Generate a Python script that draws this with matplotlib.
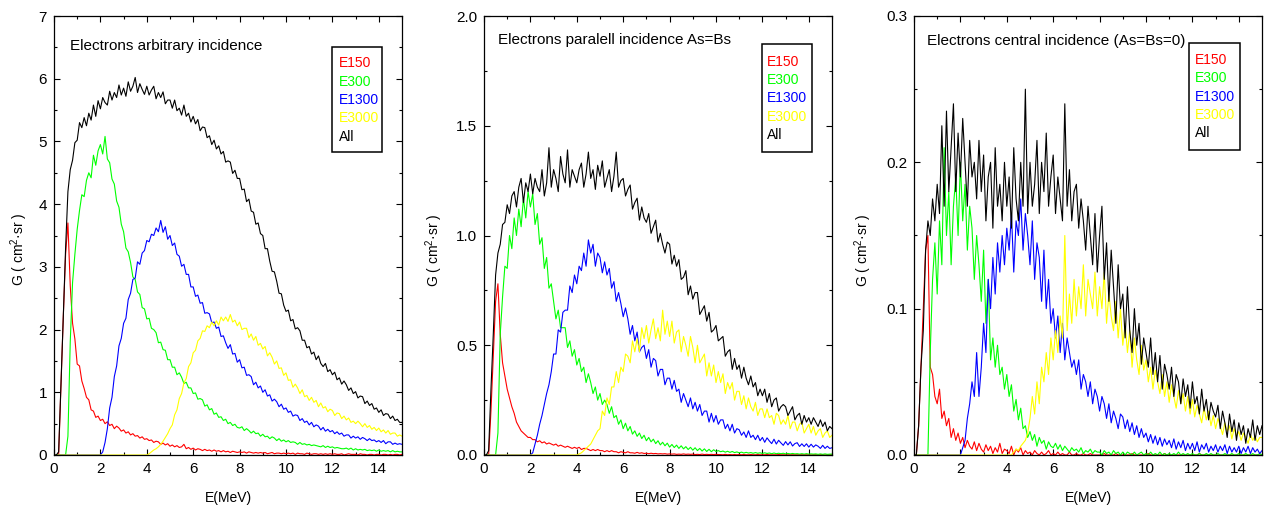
import numpy as np
import matplotlib
matplotlib.use("Agg")
import matplotlib.pyplot as plt
from matplotlib.ticker import MultipleLocator, FormatStrFormatter
from matplotlib.patches import Rectangle

plt.rcParams['font.family'] = ['Liberation Sans', 'DejaVu Sans']
plt.rcParams['mathtext.fontset'] = 'custom'
plt.rcParams['mathtext.rm'] = 'Liberation Sans'
plt.rcParams['mathtext.it'] = 'Liberation Sans:italic'

# ---------------- data ----------------
E_STEP = 0.1  # MeV, energy bin width; every series starts at E = 0
SERIES_NAMES = ['E150', 'E300', 'E1300', 'E3000', 'All']
SERIES_COLORS = ['#ff0000', '#00ff00', '#0000ff', '#ffff00', '#000000']
PANEL_TITLES = ['Electrons arbitrary incidence',
                'Electrons paralell incidence As=Bs',
                'Electrons central incidence (As=Bs=0)']
Y_MAX = [7, 2.0, 0.3]
Y_MAJOR = [1, 0.5, 0.1]
Y_FMT = ['%d', '%.1f', '%.1f']
X_MAX = 15
X_LABEL = 'E(MeV)'
Y_LABEL = 'G ( cm$^{2}$·sr )'

# Panel 1: arbitrary incidence
A_E150 = [
    0.0, 0.0, 0.0, 1.1, 2.2, 3.2, 3.7, 2.7, 2.1, 1.85,
    1.45, 1.42, 1.18, 1.06, 0.92, 0.88, 0.72, 0.7, 0.6, 0.62,
    0.55, 0.57, 0.5, 0.53, 0.47, 0.49, 0.42, 0.46, 0.43, 0.38,
    0.4, 0.35, 0.37, 0.32, 0.34, 0.3, 0.31, 0.27, 0.29, 0.25,
    0.26, 0.23, 0.24, 0.2, 0.22, 0.21, 0.17, 0.19, 0.16, 0.18,
    0.14, 0.16, 0.13, 0.15, 0.12, 0.13, 0.17, 0.1, 0.12, 0.09,
    0.11, 0.08, 0.1, 0.09, 0.07, 0.09, 0.07, 0.08, 0.06, 0.08,
    0.06, 0.07, 0.05, 0.07, 0.05, 0.06, 0.04, 0.06, 0.05, 0.04,
    0.05, 0.04, 0.05, 0.03, 0.05, 0.04, 0.03, 0.04, 0.03, 0.04,
    0.03, 0.04, 0.02, 0.03, 0.04, 0.02, 0.03, 0.03, 0.02, 0.03,
    0.02, 0.03, 0.02, 0.03, 0.01, 0.03, 0.02, 0.02, 0.01, 0.03,
    0.02, 0.01, 0.02, 0.02, 0.01, 0.02, 0.01, 0.02, 0.01, 0.02,
    0.01, 0.02, 0.01, 0.01, 0.02, 0.0, 0.01, 0.02, 0.01, 0.01,
    0.01, 0.0, 0.02, 0.01, 0.01, 0.0, 0.01, 0.01, 0.0, 0.01,
    0.01, 0.0, 0.01, 0.01, 0.0, 0.01, 0.0, 0.01, 0.01, 0.0,
    0.01]
A_E300 = [
    0.0, 0.0, 0.0, 0.0, 0.0, 0.0, 0.3, 1.8, 2.75, 3.2,
    3.6, 3.9, 4.15, 4.12, 4.38, 4.5, 4.42, 4.78, 4.62, 4.85,
    4.95, 4.8, 5.08, 4.72, 4.66, 4.4, 4.32, 4.05, 3.95, 3.68,
    3.56, 3.30, 3.24, 3.07, 2.84, 2.80, 2.60, 2.56, 2.35, 2.33,
    2.17, 2.18, 2.02, 2.00, 1.95, 1.79, 1.80, 1.68, 1.67, 1.52,
    1.52, 1.40, 1.40, 1.28, 1.31, 1.24, 1.14, 1.16, 1.07, 1.07,
    0.98, 0.99, 0.89, 0.90, 0.88, 0.78, 0.80, 0.72, 0.74, 0.65,
    0.67, 0.60, 0.61, 0.55, 0.57, 0.50, 0.52, 0.47, 0.49, 0.44,
    0.43, 0.45, 0.39, 0.42, 0.39, 0.35, 0.38, 0.34, 0.35, 0.30,
    0.33, 0.29, 0.30, 0.26, 0.29, 0.27, 0.23, 0.26, 0.22, 0.24,
    0.21, 0.23, 0.20, 0.21, 0.20, 0.17, 0.20, 0.17, 0.18, 0.16,
    0.17, 0.15, 0.16, 0.15, 0.14, 0.13, 0.15, 0.12, 0.14, 0.12,
    0.13, 0.11, 0.12, 0.11, 0.1, 0.1, 0.11, 0.09, 0.11, 0.08,
    0.1, 0.08, 0.09, 0.08, 0.09, 0.07, 0.08, 0.07, 0.08, 0.06,
    0.08, 0.06, 0.07, 0.06, 0.07, 0.05, 0.07, 0.05, 0.06, 0.05,
    0.05]
A_E1300 = [
    0.0, 0.0, 0.0, 0.0, 0.0, 0.0, 0.0, 0.0, 0.0, 0.0,
    0.0, 0.0, 0.0, 0.0, 0.0, 0.0, 0.0, 0.0, 0.0, 0.0,
    0.0, 0.05, 0.2, 0.42, 0.75, 0.92, 1.25, 1.42, 1.74, 1.86,
    2.1, 2.18, 2.48, 2.58, 2.8, 2.82, 3.08, 3.04, 3.22, 3.26,
    3.42, 3.4, 3.52, 3.5, 3.62, 3.56, 3.74, 3.55, 3.64, 3.44,
    3.50, 3.34, 3.38, 3.20, 3.17, 3.01, 3.04, 2.88, 2.88, 2.68,
    2.68, 2.53, 2.55, 2.42, 2.43, 2.26, 2.27, 2.25, 2.11, 2.12,
    2.02, 2.04, 1.89, 1.90, 1.79, 1.70, 1.76, 1.61, 1.62, 1.48,
    1.52, 1.39, 1.40, 1.27, 1.28, 1.25, 1.12, 1.16, 1.07, 1.10,
    1.00, 1.04, 0.94, 0.96, 0.86, 0.89, 0.85, 0.77, 0.81, 0.73,
    0.75, 0.68, 0.70, 0.62, 0.64, 0.63, 0.55, 0.58, 0.52, 0.54,
    0.48, 0.52, 0.45, 0.48, 0.46, 0.40, 0.44, 0.38, 0.41, 0.37,
    0.39, 0.34, 0.37, 0.33, 0.35, 0.30, 0.32, 0.32, 0.27, 0.30,
    0.27, 0.29, 0.25, 0.28, 0.26, 0.23, 0.26, 0.23, 0.24, 0.21,
    0.23, 0.20, 0.23, 0.18, 0.21, 0.21, 0.17, 0.19, 0.17, 0.18,
    0.17]
A_E3000 = [
    0.0, 0.0, 0.0, 0.0, 0.0, 0.0, 0.0, 0.0, 0.0, 0.0,
    0.0, 0.0, 0.0, 0.0, 0.0, 0.0, 0.0, 0.0, 0.0, 0.0,
    0.0, 0.0, 0.0, 0.0, 0.0, 0.0, 0.0, 0.0, 0.0, 0.0,
    0.0, 0.0, 0.0, 0.0, 0.0, 0.0, 0.0, 0.0, 0.0, 0.0,
    0.0, 0.02, 0.05, 0.08, 0.1, 0.13, 0.17, 0.22, 0.28, 0.34,
    0.42, 0.48, 0.64, 0.72, 0.9, 0.98, 1.15, 1.22, 1.41, 1.47,
    1.63, 1.67, 1.82, 1.86, 1.98, 1.97, 2.06, 2.03, 2.12, 2.06,
    2.14, 2.07, 2.20, 2.14, 2.20, 2.13, 2.24, 2.12, 2.15, 2.06,
    2.12, 2.00, 2.02, 2.02, 1.87, 1.93, 1.83, 1.89, 1.75, 1.78,
    1.69, 1.73, 1.58, 1.63, 1.56, 1.45, 1.50, 1.38, 1.39, 1.27,
    1.31, 1.19, 1.20, 1.08, 1.13, 1.07, 0.98, 1.04, 0.93, 0.95,
    0.87, 0.92, 0.84, 0.87, 0.77, 0.83, 0.75, 0.77, 0.69, 0.73,
    0.71, 0.63, 0.67, 0.66, 0.58, 0.62, 0.56, 0.59, 0.52, 0.54,
    0.50, 0.54, 0.50, 0.45, 0.50, 0.44, 0.47, 0.41, 0.44, 0.39,
    0.43, 0.37, 0.40, 0.35, 0.39, 0.33, 0.35, 0.35, 0.30, 0.32,
    0.3]
A_ALL = [
    0.0, 0.0, 0.05, 1.1, 2.2, 3.3, 4.2, 4.55, 4.7, 4.98,
    5.02, 5.3, 5.22, 5.38, 5.25, 5.45, 5.34, 5.58, 5.4, 5.65,
    5.52, 5.7, 5.62, 5.58, 5.8, 5.66, 5.78, 5.7, 5.9, 5.74,
    5.85, 5.72, 5.95, 5.8, 5.88, 6.02, 5.78, 5.92, 5.83, 5.75,
    5.88, 5.74, 5.82, 5.88, 5.68, 5.78, 5.70, 5.79, 5.60, 5.66,
    5.66, 5.53, 5.66, 5.49, 5.53, 5.42, 5.58, 5.40, 5.45, 5.31,
    5.40, 5.28, 5.35, 5.17, 5.23, 5.22, 5.06, 5.09, 4.95, 5.02,
    4.88, 4.93, 4.80, 4.84, 4.67, 4.69, 4.67, 4.49, 4.54, 4.41,
    4.41, 4.23, 4.24, 4.04, 4.08, 3.89, 3.87, 3.68, 3.70, 3.53,
    3.50, 3.29, 3.29, 3.09, 2.93, 2.92, 2.77, 2.58, 2.57, 2.39,
    2.29, 2.31, 2.14, 2.16, 2.01, 2.03, 1.98, 1.83, 1.83, 1.71,
    1.73, 1.61, 1.64, 1.52, 1.58, 1.46, 1.41, 1.46, 1.33, 1.36,
    1.28, 1.32, 1.20, 1.23, 1.13, 1.18, 1.12, 1.03, 1.07, 0.98,
    1.01, 0.91, 0.94, 0.93, 0.82, 0.86, 0.79, 0.82, 0.73, 0.75,
    0.68, 0.72, 0.63, 0.66, 0.65, 0.58, 0.62, 0.55, 0.57, 0.52,
    0.52]

# Panel 2: parallel incidence
P_E150 = [
    0.0, 0.0, 0.0, 0.2, 0.45, 0.7, 0.78, 0.55, 0.42, 0.36,
    0.3, 0.26, 0.22, 0.19, 0.15, 0.13, 0.11, 0.1, 0.09, 0.08,
    0.08, 0.07, 0.07, 0.06, 0.065, 0.055, 0.06, 0.05, 0.055, 0.05,
    0.045, 0.05, 0.04, 0.045, 0.04, 0.035, 0.04, 0.035, 0.03, 0.035,
    0.03, 0.035, 0.025, 0.03, 0.03, 0.025, 0.02, 0.025, 0.02, 0.025,
    0.02, 0.02, 0.015, 0.02, 0.015, 0.02, 0.015, 0.015, 0.01, 0.015,
    0.012, 0.01, 0.015, 0.01, 0.01, 0.008, 0.012, 0.008, 0.01, 0.007,
    0.008, 0.006, 0.008, 0.006, 0.007, 0.005, 0.006, 0.005, 0.006, 0.004,
    0.005, 0.004, 0.005, 0.003, 0.004, 0.003, 0.005, 0.003, 0.004, 0.003,
    0.004, 0.002, 0.003, 0.002, 0.004, 0.002, 0.003, 0.002, 0.003, 0.002,
    0.003, 0.002, 0.002, 0.001, 0.003, 0.001, 0.002, 0.001, 0.002, 0.001,
    0.002, 0.001, 0.002, 0.001, 0.001, 0.002, 0.001, 0.001, 0.002, 0.001,
    0.001, 0.001, 0.002, 0.001, 0.001, 0.001, 0.001, 0.002, 0.001, 0.001,
    0.001, 0.001, 0.001, 0.001, 0.001, 0.001, 0.001, 0.001, 0.001, 0.001,
    0.001, 0.0, 0.001, 0.001, 0.0, 0.001, 0.001, 0.0, 0.001, 0.001,
    0.001]
P_E300 = [
    0.0, 0.0, 0.0, 0.0, 0.0, 0.0, 0.1, 0.55, 0.72, 0.86,
    0.85, 1.0, 0.94, 1.08, 1.0, 1.12, 1.04, 1.17, 1.08, 1.2,
    1.13, 1.19, 1.05, 1.1, 0.96, 0.99, 0.85, 0.9, 0.76, 0.78,
    0.70, 0.62, 0.66, 0.58, 0.58, 0.58, 0.49, 0.52, 0.45, 0.48,
    0.41, 0.44, 0.38, 0.40, 0.33, 0.37, 0.33, 0.28, 0.31, 0.25,
    0.28, 0.23, 0.25, 0.23, 0.19, 0.22, 0.17, 0.18, 0.14, 0.16,
    0.12, 0.145, 0.11, 0.13, 0.095, 0.11, 0.085, 0.1, 0.075, 0.09,
    0.065, 0.08, 0.06, 0.072, 0.052, 0.065, 0.046, 0.058, 0.042, 0.054,
    0.036, 0.048, 0.034, 0.045, 0.03, 0.042, 0.028, 0.038, 0.025, 0.035,
    0.022, 0.033, 0.02, 0.03, 0.018, 0.028, 0.016, 0.026, 0.015, 0.024,
    0.016, 0.02, 0.015, 0.018, 0.013, 0.017, 0.012, 0.016, 0.011, 0.014,
    0.01, 0.013, 0.009, 0.012, 0.009, 0.011, 0.008, 0.011, 0.008, 0.01,
    0.007, 0.01, 0.007, 0.009, 0.006, 0.009, 0.006, 0.008, 0.006, 0.008,
    0.005, 0.007, 0.005, 0.007, 0.005, 0.006, 0.004, 0.006, 0.004, 0.006,
    0.004, 0.005, 0.004, 0.005, 0.003, 0.005, 0.003, 0.005, 0.003, 0.004,
    0.004]
P_E1300 = [
    0.0, 0.0, 0.0, 0.0, 0.0, 0.0, 0.0, 0.0, 0.0, 0.0,
    0.0, 0.0, 0.0, 0.0, 0.0, 0.0, 0.0, 0.0, 0.0, 0.0,
    0.0, 0.01, 0.05, 0.09, 0.14, 0.18, 0.23, 0.28, 0.32, 0.38,
    0.46, 0.46, 0.57, 0.56, 0.65, 0.66, 0.66, 0.77, 0.74, 0.82,
    0.78, 0.86, 0.84, 0.92, 0.86, 0.98, 0.92, 0.96, 0.86, 0.92,
    0.90, 0.83, 0.88, 0.82, 0.85, 0.76, 0.79, 0.70, 0.74, 0.69,
    0.63, 0.67, 0.62, 0.55, 0.59, 0.52, 0.56, 0.47, 0.49, 0.50,
    0.44, 0.48, 0.40, 0.44, 0.43, 0.36, 0.39, 0.39, 0.32, 0.35,
    0.35, 0.30, 0.34, 0.29, 0.30, 0.24, 0.28, 0.25, 0.22, 0.26,
    0.21, 0.24, 0.20, 0.23, 0.18, 0.20, 0.20, 0.15, 0.19, 0.15,
    0.18, 0.14, 0.16, 0.16, 0.12, 0.14, 0.11, 0.14, 0.10, 0.12,
    0.115, 0.09, 0.105, 0.08, 0.11, 0.08, 0.09, 0.07, 0.09, 0.065,
    0.08, 0.058, 0.078, 0.064, 0.052, 0.072, 0.05, 0.067, 0.055, 0.044,
    0.061, 0.046, 0.06, 0.041, 0.052, 0.056, 0.039, 0.051, 0.039, 0.051,
    0.036, 0.049, 0.036, 0.046, 0.04, 0.03, 0.044, 0.03, 0.04, 0.03,
    0.033]
P_E3000 = [
    0.0, 0.0, 0.0, 0.0, 0.0, 0.0, 0.0, 0.0, 0.0, 0.0,
    0.0, 0.0, 0.0, 0.0, 0.0, 0.0, 0.0, 0.0, 0.0, 0.0,
    0.0, 0.0, 0.0, 0.0, 0.0, 0.0, 0.0, 0.0, 0.0, 0.0,
    0.0, 0.0, 0.0, 0.0, 0.0, 0.0, 0.0, 0.0, 0.0, 0.0,
    0.0, 0.005, 0.01, 0.02, 0.03, 0.04, 0.05, 0.07, 0.09, 0.11,
    0.12, 0.20, 0.18, 0.26, 0.23, 0.31, 0.31, 0.38, 0.33, 0.40,
    0.38, 0.46, 0.45, 0.42, 0.52, 0.47, 0.53, 0.47, 0.58, 0.53,
    0.59, 0.51, 0.57, 0.62, 0.53, 0.58, 0.52, 0.66, 0.55, 0.61,
    0.54, 0.61, 0.51, 0.56, 0.57, 0.47, 0.54, 0.50, 0.45, 0.54,
    0.49, 0.42, 0.50, 0.42, 0.44, 0.46, 0.36, 0.42, 0.36, 0.41,
    0.33, 0.38, 0.33, 0.37, 0.28, 0.33, 0.30, 0.33, 0.25, 0.29,
    0.29, 0.23, 0.27, 0.21, 0.26, 0.22, 0.20, 0.24, 0.18, 0.21,
    0.21, 0.17, 0.21, 0.17, 0.18, 0.14, 0.19, 0.18, 0.14, 0.16,
    0.14, 0.18, 0.12, 0.15, 0.15, 0.11, 0.14, 0.15, 0.10, 0.12,
    0.14, 0.10, 0.13, 0.09, 0.11, 0.12, 0.08, 0.10, 0.11, 0.08,
    0.09]
P_ALL = [
    0.0, 0.0, 0.02, 0.3, 0.55, 0.82, 0.92, 0.96, 1.05, 1.06,
    1.14, 1.1, 1.18, 1.2, 1.13, 1.22, 1.26, 1.15, 1.24, 1.2,
    1.28, 1.19, 1.26, 1.22, 1.2, 1.3, 1.18, 1.24, 1.4, 1.22,
    1.3, 1.26, 1.2, 1.36, 1.28, 1.24, 1.39, 1.22, 1.3, 1.27,
    1.24, 1.3, 1.33, 1.22, 1.28, 1.38, 1.26, 1.3, 1.21, 1.32,
    1.27, 1.34, 1.22, 1.26, 1.3, 1.2, 1.27, 1.38, 1.22, 1.25,
    1.26, 1.18, 1.21, 1.23, 1.12, 1.15, 1.17, 1.07, 1.13, 1.08,
    1.06, 1.10, 1.01, 1.04, 1.07, 0.97, 1.01, 0.96, 0.92, 0.97,
    0.96, 0.87, 0.91, 0.86, 0.89, 0.80, 0.81, 0.84, 0.73, 0.77,
    0.71, 0.74, 0.74, 0.64, 0.66, 0.68, 0.61, 0.65, 0.56, 0.57,
    0.59, 0.52, 0.53, 0.54, 0.45, 0.47, 0.48, 0.39, 0.44, 0.39,
    0.41, 0.35, 0.40, 0.35, 0.32, 0.36, 0.31, 0.33, 0.27, 0.30,
    0.27, 0.30, 0.24, 0.28, 0.22, 0.25, 0.26, 0.20, 0.22, 0.23,
    0.22, 0.18, 0.20, 0.22, 0.16, 0.18, 0.19, 0.14, 0.18, 0.15,
    0.17, 0.14, 0.17, 0.15, 0.13, 0.16, 0.13, 0.15, 0.11, 0.13,
    0.12]

# Panel 3: central incidence
C_E150 = [
    0.0, 0.0, 0.02, 0.06, 0.1, 0.14, 0.15, 0.06, 0.055, 0.04,
    0.035, 0.045, 0.025, 0.03, 0.02, 0.025, 0.012, 0.018, 0.01, 0.015,
    0.008, 0.012, 0.005, 0.01, 0.006, 0.004, 0.009, 0.003, 0.008, 0.004,
    0.002, 0.007, 0.003, 0.006, 0.001, 0.005, 0.002, 0.008, 0.001, 0.004,
    0.003, 0.001, 0.006, 0.0, 0.004, 0.002, 0.005, 0.0, 0.003, 0.001,
    0.002, 0.0, 0.003, 0.001, 0.0, 0.002, 0.0, 0.001, 0.003, 0.0,
    0.001, 0.0, 0.002, 0.0, 0.001, 0.0, 0.0, 0.002, 0.0, 0.0,
    0.001, 0.0, 0.0, 0.001, 0.0, 0.0, 0.001, 0.0, 0.0, 0.0,
    0.0, 0.0, 0.001, 0.0, 0.0, 0.0, 0.0, 0.001, 0.0, 0.0,
    0.0, 0.0, 0.0, 0.0, 0.001, 0.0, 0.0, 0.0, 0.0, 0.0,
    0.0, 0.001, 0.0, 0.0, 0.0, 0.0, 0.0, 0.0, 0.001, 0.0,
    0.0, 0.0, 0.0, 0.0, 0.0, 0.0, 0.0, 0.0, 0.0, 0.0,
    0.0, 0.0, 0.0, 0.001, 0.0, 0.0, 0.0, 0.0, 0.0, 0.0,
    0.0, 0.0, 0.0, 0.0, 0.0, 0.0, 0.0, 0.0, 0.0, 0.0,
    0.0, 0.0, 0.0, 0.0, 0.0, 0.0, 0.0, 0.0, 0.0, 0.0,
    0.0]
C_E300 = [
    0.0, 0.0, 0.0, 0.0, 0.0, 0.0, 0.0, 0.07, 0.12, 0.145,
    0.11, 0.16, 0.13, 0.21, 0.15, 0.18, 0.13, 0.17, 0.19, 0.15,
    0.2, 0.16, 0.185, 0.14, 0.17, 0.155, 0.12, 0.15, 0.13, 0.105,
    0.14, 0.09, 0.12, 0.065, 0.08, 0.06, 0.075, 0.055, 0.06, 0.045,
    0.055, 0.04, 0.048, 0.03, 0.038, 0.024, 0.032, 0.018, 0.02, 0.012,
    0.016, 0.01, 0.014, 0.006, 0.012, 0.008, 0.01, 0.004, 0.009, 0.006,
    0.005, 0.008, 0.004, 0.007, 0.003, 0.006, 0.004, 0.002, 0.005, 0.003,
    0.004, 0.002, 0.005, 0.001, 0.003, 0.002, 0.004, 0.001, 0.003, 0.002,
    0.002, 0.0, 0.003, 0.001, 0.002, 0.0, 0.003, 0.001, 0.002, 0.0,
    0.002, 0.0, 0.002, 0.001, 0.0, 0.002, 0.0, 0.001, 0.002, 0.0,
    0.001, 0.0, 0.002, 0.0, 0.001, 0.0, 0.002, 0.0, 0.001, 0.0,
    0.001, 0.0, 0.001, 0.0, 0.002, 0.0, 0.001, 0.0, 0.001, 0.0,
    0.001, 0.0, 0.0, 0.001, 0.0, 0.0, 0.001, 0.0, 0.001, 0.0,
    0.0, 0.001, 0.0, 0.0, 0.001, 0.0, 0.0, 0.001, 0.0, 0.0,
    0.001, 0.0, 0.0, 0.001, 0.0, 0.0, 0.001, 0.0, 0.0, 0.001,
    0.0]
C_E1300 = [
    0.0, 0.0, 0.0, 0.0, 0.0, 0.0, 0.0, 0.0, 0.0, 0.0,
    0.0, 0.0, 0.0, 0.0, 0.0, 0.0, 0.0, 0.0, 0.0, 0.0,
    0.0, 0.005, 0.01, 0.025, 0.035, 0.05, 0.04, 0.07, 0.04, 0.06,
    0.09, 0.07, 0.12, 0.1, 0.135, 0.11, 0.145, 0.125, 0.15, 0.13,
    0.155, 0.14, 0.165, 0.125, 0.16, 0.15, 0.175, 0.14, 0.165, 0.15,
    0.13, 0.16, 0.12, 0.145, 0.135, 0.105, 0.14, 0.1, 0.12, 0.09,
    0.1, 0.08, 0.095, 0.07, 0.09, 0.065, 0.08, 0.07, 0.06, 0.065,
    0.055, 0.065, 0.045, 0.055, 0.05, 0.04, 0.05, 0.035, 0.045, 0.04,
    0.03, 0.04, 0.035, 0.025, 0.035, 0.022, 0.03, 0.025, 0.018, 0.028,
    0.026, 0.018, 0.024, 0.016, 0.022, 0.014, 0.02, 0.012, 0.018, 0.012,
    0.015, 0.009, 0.014, 0.008, 0.013, 0.007, 0.012, 0.006, 0.011, 0.007,
    0.01, 0.005, 0.011, 0.004, 0.009, 0.005, 0.01, 0.003, 0.008, 0.004,
    0.008, 0.003, 0.009, 0.002, 0.007, 0.004, 0.008, 0.002, 0.006, 0.003,
    0.007, 0.002, 0.006, 0.003, 0.007, 0.001, 0.006, 0.002, 0.005, 0.002,
    0.006, 0.001, 0.005, 0.002, 0.006, 0.001, 0.005, 0.002, 0.004, 0.001,
    0.003]
C_E3000 = [
    0.0, 0.0, 0.0, 0.0, 0.0, 0.0, 0.0, 0.0, 0.0, 0.0,
    0.0, 0.0, 0.0, 0.0, 0.0, 0.0, 0.0, 0.0, 0.0, 0.0,
    0.0, 0.0, 0.0, 0.0, 0.0, 0.0, 0.0, 0.0, 0.0, 0.0,
    0.0, 0.0, 0.0, 0.0, 0.0, 0.0, 0.0, 0.0, 0.0, 0.0,
    0.0, 0.0, 0.0, 0.002, 0.004, 0.003, 0.006, 0.008, 0.01, 0.015,
    0.025, 0.04, 0.028, 0.05, 0.035, 0.06, 0.05, 0.07, 0.055, 0.08,
    0.065, 0.085, 0.07, 0.095, 0.08, 0.15, 0.085, 0.11, 0.09, 0.12,
    0.095, 0.115, 0.1, 0.13, 0.095, 0.12, 0.11, 0.1, 0.125, 0.095,
    0.115, 0.1, 0.125, 0.09, 0.11, 0.095, 0.085, 0.105, 0.08, 0.1,
    0.075, 0.09, 0.07, 0.085, 0.06, 0.08, 0.065, 0.055, 0.075, 0.058,
    0.065, 0.05, 0.06, 0.045, 0.058, 0.05, 0.042, 0.055, 0.04, 0.05,
    0.036, 0.048, 0.04, 0.032, 0.044, 0.035, 0.042, 0.03, 0.04, 0.028,
    0.038, 0.026, 0.034, 0.028, 0.022, 0.032, 0.024, 0.03, 0.02, 0.027,
    0.018, 0.025, 0.02, 0.014, 0.022, 0.016, 0.02, 0.011, 0.018, 0.013,
    0.016, 0.01, 0.015, 0.012, 0.008, 0.014, 0.01, 0.013, 0.009, 0.012,
    0.012]
C_ALL = [
    0.0, 0.0, 0.02, 0.06, 0.085, 0.14, 0.16, 0.15, 0.175, 0.16,
    0.185, 0.165, 0.225, 0.17, 0.235, 0.18, 0.21, 0.24, 0.18, 0.22,
    0.19, 0.23, 0.2, 0.17, 0.215, 0.19, 0.2, 0.175, 0.215, 0.18,
    0.205, 0.16, 0.19, 0.2, 0.155, 0.21, 0.17, 0.185, 0.16, 0.2,
    0.17, 0.19, 0.155, 0.21, 0.175, 0.16, 0.2, 0.17, 0.25, 0.165,
    0.2, 0.17, 0.185, 0.215, 0.165, 0.2, 0.18, 0.22, 0.17, 0.19,
    0.205, 0.165, 0.19, 0.175, 0.16, 0.24, 0.17, 0.195, 0.16, 0.18,
    0.185, 0.155, 0.175, 0.16, 0.14, 0.17, 0.15, 0.13, 0.165, 0.125,
    0.15, 0.17, 0.12, 0.145, 0.105, 0.14, 0.115, 0.09, 0.13, 0.1,
    0.11, 0.08, 0.115, 0.085, 0.07, 0.1, 0.075, 0.09, 0.062, 0.08,
    0.07, 0.06, 0.08, 0.055, 0.07, 0.05, 0.068, 0.045, 0.062, 0.055,
    0.045, 0.06, 0.04, 0.055, 0.05, 0.035, 0.052, 0.04, 0.048, 0.032,
    0.05, 0.035, 0.04, 0.028, 0.045, 0.03, 0.038, 0.024, 0.036, 0.03,
    0.026, 0.034, 0.018, 0.03, 0.022, 0.012, 0.028, 0.016, 0.024, 0.01,
    0.022, 0.014, 0.02, 0.008, 0.018, 0.012, 0.024, 0.01, 0.02, 0.014,
    0.02]

PANEL_DATA = [
    [A_E150, A_E300, A_E1300, A_E3000, A_ALL],
    [P_E150, P_E300, P_E1300, P_E3000, P_ALL],
    [C_E150, C_E300, C_E1300, C_E3000, C_ALL],
]

# ---------------- layout (pixels) ----------------
W, H = 1264, 512
AX_BOXES = [(54, 16, 402, 455), (484, 16, 832, 455), (914, 16, 1262, 455)]
TITLE_POS = [(0.046, 0.932), (0.040, 0.945), (0.037, 0.943)]
YLAB_PX = [(19, 249), (434, 250), (863, 250)]
# legend frame (x0, y0, x1, y1), text left x, text centre ys  -- pixels
LEG_BOX = [(332, 47, 382, 152), (762, 44, 812, 152), (1189, 43, 1240, 150)]
LEG_TX = [339, 767, 1195]
LEG_TY = [[63, 81.5, 100, 118.5, 137], [61.7, 80, 98.3, 116.7, 135],
          [60, 78, 97, 115, 133]]

fig = plt.figure(figsize=(W / 100, H / 100), dpi=100)

for i, (l, t, r, b) in enumerate(AX_BOXES):
    ax = fig.add_axes([l / W, 1 - b / H, (r - l) / W, (b - t) / H])

    def axc(px, py):
        return (px - l) / (r - l), (b - py) / (b - t)

    for vals, name, col in zip(PANEL_DATA[i], SERIES_NAMES, SERIES_COLORS):
        y = np.asarray(vals, dtype=float)
        x = np.arange(len(y)) * E_STEP
        ax.plot(x, y, color=col, lw=0.8, label=name)
    ax.set_xlim(0, X_MAX)
    ax.set_ylim(0, Y_MAX[i])
    ax.xaxis.set_major_locator(MultipleLocator(2))
    ax.xaxis.set_minor_locator(MultipleLocator(1))
    ax.yaxis.set_major_locator(MultipleLocator(Y_MAJOR[i]))
    ax.yaxis.set_minor_locator(MultipleLocator(Y_MAJOR[i] / 2))
    ax.yaxis.set_major_formatter(FormatStrFormatter(Y_FMT[i]))
    ax.tick_params(which='both', direction='in', top=True, right=True,
                   width=0.8, labelsize=11, pad=5)
    ax.tick_params(which='major', length=4)
    ax.tick_params(which='minor', length=2.5)
    for sp in ax.spines.values():
        sp.set_linewidth(0.9)
    ax.text(TITLE_POS[i][0], TITLE_POS[i][1], PANEL_TITLES[i],
            transform=ax.transAxes, fontsize=11, ha='left', va='center',
            zorder=10)

    # legend: framed box with coloured labels only
    x0, y0, x1, y1 = LEG_BOX[i]
    ax0, ay1 = axc(x0, y0)
    ax1, ay0 = axc(x1, y1)
    ax.add_patch(Rectangle((ax0, ay0), ax1 - ax0, ay1 - ay0,
                           transform=ax.transAxes, facecolor='white',
                           edgecolor='black', lw=1.1, zorder=8,
                           clip_on=False))
    for name, col, ty in zip(SERIES_NAMES, SERIES_COLORS, LEG_TY[i]):
        tx, tyy = axc(LEG_TX[i], ty)
        ax.text(tx, tyy, name, color=col, fontsize=10, ha='left',
                va='center', transform=ax.transAxes, zorder=9)

    # axis labels
    fig.text(((l + r) / 2) / W, 1 - 498 / H, X_LABEL, fontsize=10,
             ha='center', va='center')
    fig.text(YLAB_PX[i][0] / W, 1 - YLAB_PX[i][1] / H, Y_LABEL, fontsize=10,
             rotation=90, ha='center', va='center')

fig.savefig('out.png', dpi=100)
